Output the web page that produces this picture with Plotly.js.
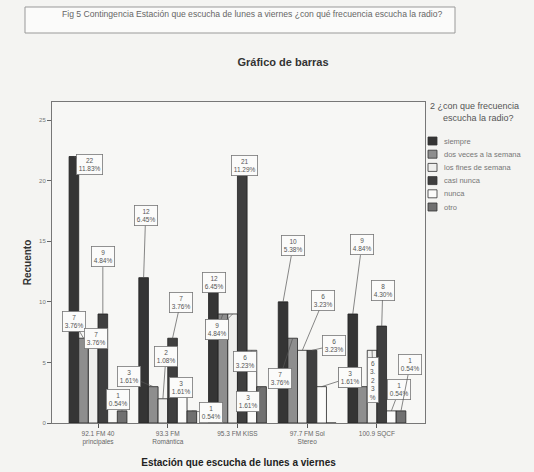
<!DOCTYPE html>
<html><head><meta charset="utf-8">
<script src="https://cdn.plot.ly/plotly-3.0.1.min.js"></script>
<style>html,body{margin:0;padding:0;background:#f4f4f2}</style>
</head><body><div id="chart" style="width:534px;height:472px"></div>
<script>
// ---- data ----
const stations = ["92.1 FM 40<br>principales", "93.3 FM<br>Romántica", "95.3 FM KISS", "97.7 FM Sol<br>Stereo", "100.9 SQCF"];
const seriesNames = ["siempre", "dos veces a la semana", "los fines de semana", "casi nunca", "nunca", "otro"];
const siempre     = [22, 12, 12, 10, 9];
const dosVeces    = [7, 3, 9, 7, 3];
const finesSemana = [7, 2, 9, 6, 6];
const casiNunca   = [9, 7, 21, 6, 8];
const nunca       = [0, 3, 6, 3, 1];
const otro        = [1, 1, 3, 0, 1];
const totalN = 186;
const yTicks = [0, 5, 10, 15, 20, 25];

// ---- styles ----
const seriesValues = [siempre, dosVeces, finesSemana, casiNunca, nunca, otro];
const colors = ["#353535", "#8e8e8e", "#efefed", "#3f3f3f", "#fbfbfa", "#707070"];
const bargap = 0.17;
const FONT = "Liberation Sans, Arial, sans-serif";
// plot box in pixels
const M = {l: 52, r: 109, t: 102, b: 49};
const W = 534, H = 472;
const pw = W - M.l - M.r, ph = H - M.t - M.b;
const px2x = p => (p - M.l) / pw;
const py2y = p => (H - M.b - p) / ph;

// label box offsets (pixels) relative to bar tops
const labelOffsets = [
  [[16, 8], [2, -62], [1, 5], [10, -56], [9, -69]],
  [[-10, -17], [-24, -10], [-6, 16], [-13, 40], [-12, -9]],
  [[3, 0], [3, -42], [-16, 16], [21, -50], [1, 30]],
  [[0, -57], [8, -36], [2, -3], [22, -5], [1, -36]],
  [null, [-1, 1], [-7, 11], [28, -9], [8, -21]],
  [[-4, -11], [19, 2], [-14, 15], null, [9, -46]]
];

const xs = stations.map((s, i) => i);
const traces = seriesValues.map((vals, s) => ({
  type: "bar", x: xs, y: vals, name: seriesNames[s],
  marker: {color: colors[s], line: {color: "#222", width: 0.8}},
  hoverinfo: "y+name"
}));

const nS = seriesValues.length;
const w = (1 - bargap) / nS;
const annotations = [];
const shapes = [];
seriesValues.forEach((vals, s) => {
  vals.forEach((v, g) => {
    const off = labelOffsets[s][g];
    if (!off || v === 0) return;
    const pct = (v / totalN * 100).toFixed(2);
    let txt = v + "<br>" + pct + "%";
    if (s === 2 && g === 4) txt = v + "<br>" + pct.slice(0, 2) + "<br>" + pct.slice(2, 3) + "<br>" + pct.slice(3) + "<br>%";
    annotations.push({
      x: g + (s - (nS - 1) / 2) * w, y: v, xref: "x", yref: "y",
      ax: off[0], ay: off[1], showarrow: true, arrowhead: 0, arrowwidth: 0.7,
      arrowcolor: "#555", standoff: 0, text: txt,
      font: {family: FONT, size: 6.5, color: "#555"},
      bordercolor: "#777", borderwidth: 0.8, borderpad: 2, bgcolor: "#fbfbfa"
    });
  });
});

// caption at top
shapes.push({type: "rect", xref: "paper", yref: "paper", x0: px2x(25), x1: px2x(455), y0: py2y(33), y1: py2y(7),
             line: {color: "#999", width: 1}, fillcolor: "#fbfbfa", layer: "below"});
annotations.push({
  xref: "paper", yref: "paper", x: px2x(252), y: py2y(14), yanchor: "middle", showarrow: false,
  text: "Fig 5 Contingencia Estación que escucha de lunes a viernes ¿con qué frecuencia escucha la radio?",
  font: {family: FONT, size: 8.6, color: "#666"}
});

// custom legend
annotations.push({xref: "paper", yref: "paper", x: px2x(428), y: py2y(106), xanchor: "left", yanchor: "middle",
  showarrow: false, align: "left", text: "2 ¿con que frecuencia",
  font: {family: FONT, size: 9, color: "#555"}});
annotations.push({xref: "paper", yref: "paper", x: px2x(441), y: py2y(118), xanchor: "left", yanchor: "middle",
  showarrow: false, align: "left", text: "escucha la radio?",
  font: {family: FONT, size: 9, color: "#555"}});
seriesNames.forEach((n, s) => {
  const cy = 141 + 13.2 * s;
  shapes.push({type: "rect", xref: "paper", yref: "paper", x0: px2x(428), x1: px2x(437),
               y0: py2y(cy + 4), y1: py2y(cy - 4), fillcolor: colors[s], line: {color: "#333", width: 0.8}});
  annotations.push({xref: "paper", yref: "paper", x: px2x(442), y: py2y(cy), xanchor: "left", yanchor: "middle",
    showarrow: false, text: n, font: {family: FONT, size: 7.5, color: "#777"}});
});

const layout = {
  width: W, height: H,
  paper_bgcolor: "#f4f4f2", plot_bgcolor: "#f7f7f5",
  margin: M,
  font: {family: FONT, color: "#444"},
  title: {text: "Gráfico de barras", x: 0.53, xanchor: "center", y: 0.869, yanchor: "middle",
          font: {size: 11, weight: "bold", color: "#333"}},
  barmode: "group", bargap: bargap, bargroupgap: 0,
  showlegend: false,
  xaxis: {range: [-0.66, 4.69], tickvals: xs, ticktext: stations, ticks: "outside", ticklen: 4,
          tickcolor: "#555", tickfont: {size: 6.5, color: "#666"}, showline: true, linecolor: "#777",
          mirror: true, showgrid: false, zeroline: false,
          title: {text: "Estación que escucha de lunes a viernes", standoff: 13,
                  font: {size: 10, weight: "bold", color: "#222"}}},
  yaxis: {range: [0, 26.5], tickvals: yTicks, ticks: "outside", ticklen: 4, tickcolor: "#666",
          tickfont: {size: 6, color: "#777"}, showline: true, linecolor: "#777", mirror: true,
          showgrid: false, zeroline: false,
          title: {text: "Recuento", standoff: 5, font: {size: 10, weight: "bold", color: "#333"}}},
  shapes: shapes,
  annotations: annotations
};

Plotly.newPlot("chart", traces, layout, {displayModeBar: false, staticPlot: true});
</script>
</body></html>
